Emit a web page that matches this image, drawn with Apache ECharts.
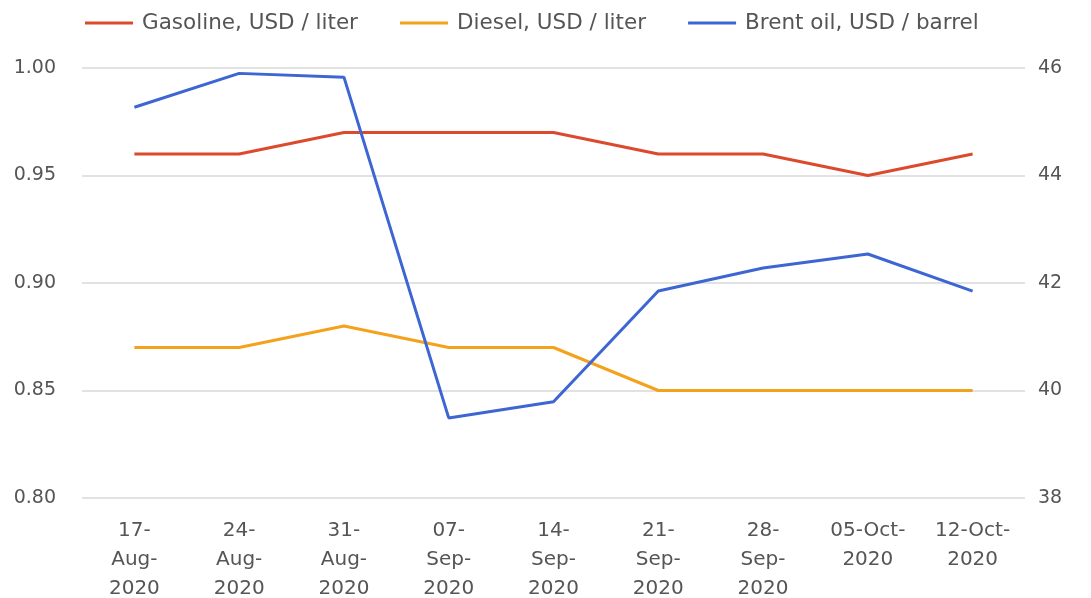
<!DOCTYPE html>
<html>
<head>
<meta charset="utf-8">
<script src="https://cdn.jsdelivr.net/npm/echarts@6/dist/echarts.min.js"></script>
<style>
  html, body { margin: 0; padding: 0; background: #fff; }
  #chart { width: 1091px; height: 598px; }
</style>
</head>
<body>
<div id="chart"></div>
<script>
const weeks = ['17-\nAug-\n2020', '24-\nAug-\n2020', '31-\nAug-\n2020', '07-\nSep-\n2020', '14-\nSep-\n2020',
  '21-\nSep-\n2020', '28-\nSep-\n2020', '05-Oct-\n2020', '12-Oct-\n2020']
const gasoline = [0.96, 0.96, 0.97, 0.97, 0.97, 0.96, 0.96, 0.95, 0.96]
const diesel = [0.87, 0.87, 0.88, 0.87, 0.87, 0.85, 0.85, 0.85, 0.85]
const brent = [45.27, 45.9, 45.83, 39.49, 39.79, 41.85, 42.28, 42.54, 41.85]

const myChart = echarts.init(document.getElementById('chart'))

const option = {
  animation: false,
  textStyle: { fontFamily: 'DejaVu Sans, sans-serif' },
  legend: {
    top: 7,
    left: 80,
    icon: 'rect',
    itemWidth: 48,
    itemHeight: 3,
    itemGap: 42,
    textStyle: { fontSize: 21.5, color: '#555', padding: [0, 0, 0, 4] },
    data: ['Gasoline, USD / liter', 'Diesel, USD / liter', 'Brent oil, USD / barrel']
  },
  grid: {
    left: 82,
    right: 66,
    top: 68,
    bottom: 100,
    outerBoundsMode: 'none'
  },
  xAxis: {
    type: 'category',
    data: weeks,
    axisLine: { show: false },
    axisTick: { show: false },
    axisLabel: { color: '#555', fontSize: 20, lineHeight: 29, margin: 18, interval: 0 }
  },
  yAxis: [
    {
      type: 'value',
      min: 0.8,
      max: 1.0,
      interval: 0.05,
      axisLabel: { color: '#555', fontSize: 19, margin: 26, formatter: v => v.toFixed(2) },
      splitLine: { lineStyle: { color: '#d9d9d9', width: 1.5 } }
    },
    {
      type: 'value',
      min: 38,
      max: 46,
      interval: 2,
      axisLabel: { color: '#555', fontSize: 19, margin: 13 },
      splitLine: { show: false }
    }
  ],
  series: [
    {
      name: 'Gasoline, USD / liter',
      type: 'line',
      data: gasoline,
      symbol: 'none',
      itemStyle: { color: '#dc4a2d' },
      lineStyle: { color: '#dc4a2d', width: 3 }
    },
    {
      name: 'Diesel, USD / liter',
      type: 'line',
      data: diesel,
      symbol: 'none',
      itemStyle: { color: '#f4a21c' },
      lineStyle: { color: '#f4a21c', width: 3 }
    },
    {
      name: 'Brent oil, USD / barrel',
      type: 'line',
      yAxisIndex: 1,
      data: brent,
      symbol: 'none',
      itemStyle: { color: '#3d66d3' },
      lineStyle: { color: '#3d66d3', width: 3 }
    }
  ]
}

myChart.setOption(option)
</script>
</body>
</html>
